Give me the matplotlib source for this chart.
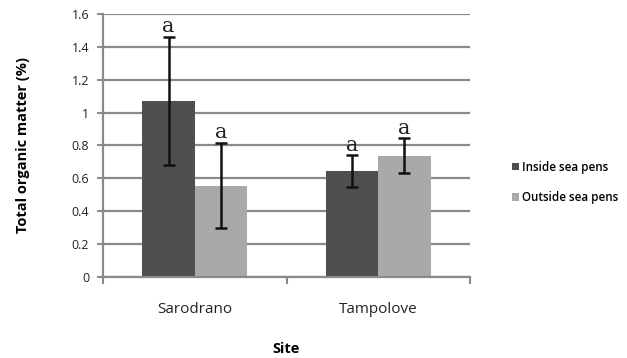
import matplotlib
matplotlib.use("Agg")
import matplotlib.pyplot as plt
import numpy as np

sites = ["Sarodrano", "Tampolove"]
inside = [1.07, 0.645]
inside_err = [0.39, 0.095]
outside = [0.555, 0.738]
outside_err = [0.26, 0.105]
letters_inside = ["a", "a"]
letters_outside = ["a", "a"]
yticks = [0, 0.2, 0.4, 0.6, 0.8, 1, 1.2, 1.4, 1.6]

fig = plt.figure(figsize=(6.27, 3.58), dpi=100)
ax = fig.add_axes([0.1643, 0.2263, 0.5853, 0.7346])

x = np.arange(len(sites))
w = 0.285
ax.set_axisbelow(True)
ax.yaxis.grid(True, color="#8a8a8a", linewidth=1.6)
ax.bar(x - w / 2, inside, w, color="#4f4f4f", label="Inside sea pens")
ax.bar(x + w / 2, outside, w, color="#a9a9a9", label="Outside sea pens")
ax.errorbar(x - w / 2, inside, yerr=inside_err, fmt="none", ecolor="#111111",
            elinewidth=1.8, capsize=4, capthick=1.8)
ax.errorbar(x + w / 2, outside, yerr=outside_err, fmt="none", ecolor="#111111",
            elinewidth=1.8, capsize=4, capthick=1.8)

for i in range(len(sites)):
    ax.text(x[i] - w / 2, inside[i] + inside_err[i] + 0.005, letters_inside[i],
            ha="center", va="bottom", family="DejaVu Serif", fontsize=15, color="#222222")
    ax.text(x[i] + w / 2, outside[i] + outside_err[i] + 0.005, letters_outside[i],
            ha="center", va="bottom", family="DejaVu Serif", fontsize=15, color="#222222")

ax.set_xlim(-0.5, 1.5)
ax.set_ylim(0, 1.6)
ax.set_yticks(yticks)
ax.set_yticklabels([f"{t:g}" for t in yticks], fontsize=9, family="Open Sans", color="#222222")
ax.set_xticks([-0.5, 0.5, 1.5])
ax.set_xticklabels([])
ax.set_xticks(x, minor=True)
ax.set_xticklabels(sites, minor=True, fontsize=11, family="Open Sans", color="#222222")
ax.tick_params(axis="x", which="minor", length=0, pad=18)
ax.tick_params(axis="x", which="major", length=5, color="#8a8a8a", width=1.5)
ax.tick_params(axis="y", length=4, color="#8a8a8a", width=1.5, pad=6)

for s in ["top", "right"]:
    ax.spines[s].set_visible(False)
for s in ["left", "bottom"]:
    ax.spines[s].set_color("#8a8a8a")
    ax.spines[s].set_linewidth(1.6)

ax.set_ylabel("Total organic matter (%)", fontsize=10.5, fontweight="bold",
              family="Open Sans", labelpad=30)
ax.set_xlabel("Site", fontsize=10.5, fontweight="bold", family="Open Sans", labelpad=18)

ax.legend(loc="center left", bbox_to_anchor=(1.085, 0.36), frameon=False,
          prop={"family": "Open Sans", "size": 8.4, "weight": "semibold"},
          handlelength=0.6, handleheight=0.6, handletextpad=0.3, labelspacing=1.5)

fig.savefig("out.png", dpi=100)
